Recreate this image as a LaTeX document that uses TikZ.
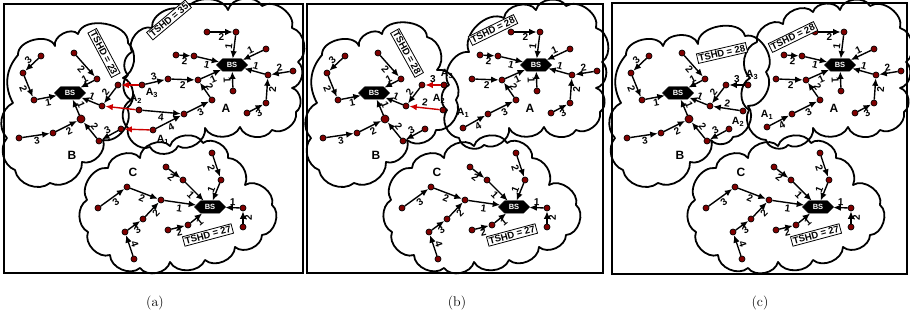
\documentclass[tikz,border=0pt]{standalone}
\usepackage{fontspec}
\setsansfont{Liberation Sans}
\usetikzlibrary{arrows.meta,shapes.symbols}
\definecolor{dotred}{RGB}{128,0,0}
\definecolor{arrred}{RGB}{205,0,0}
\tikzset{
 dot/.style={circle,fill=dotred,draw=black,line width=0.7pt,inner sep=0pt,minimum size=6pt},
 bigdot/.style={dot,minimum size=8pt},
 arr/.style={draw=black,line width=1.4pt,-{Latex[length=7.5pt,width=6.5pt]}},
 redarr/.style={draw=arrred,line width=1.4pt,-{Latex[length=7.5pt,width=6.5pt]}},
 lbl/.style={font=\sffamily\bfseries\fontsize{10}{10}\selectfont,inner sep=1.3pt,sloped},
 bs/.style={signal,signal to=east and west,fill=black,draw=black,text=white,font=\sffamily\bfseries\fontsize{7.5}{8}\selectfont,minimum width=31pt,minimum height=12.5pt,inner sep=0pt},
 tshd/.style={draw,line width=0.8pt,fill=white,font=\sffamily\bfseries\fontsize{9.5}{10}\selectfont,inner sep=1.5pt},
 cl/.style={line width=1.8pt,line join=round,line cap=round},
 frm/.style={line width=1.8pt},
 big/.style={font=\sffamily\bfseries\fontsize{12}{12}\selectfont},
 alab/.style={font=\sffamily\bfseries\fontsize{10.5}{11}\selectfont},
 captxt/.style={font=\fontsize{14}{16}\selectfont},
}
\newcommand{\E}[4]{\draw[arr] (#1) -- node[lbl,#4]{#3} (#2);}
\newcommand{\R}[4]{\draw[redarr] (#1) -- node[lbl,#4]{#3} (#2);}
\newcommand{\clB}{%
\node[bs] (BSb) at (70,93) {BS};
\node[dot] (b1) at (41,56) {};
\node[dot] (b2) at (23,73) {};
\node[dot] (b3) at (34,100) {};
\node[dot] (b4) at (74,53) {};
\node[dot] (b5) at (97,79) {};
\node[dot] (b6) at (102,106) {};
\node[dot] (b7) at (118,85) {};
\node[bigdot] (b8) at (81,119) {};
\node[dot] (b9) at (53,133) {};
\node[dot] (b10) at (19,138) {};
\node[dot] (b11) at (99,141) {};
\node[dot] (b12) at (121,129) {};
\E{b1}{b2}{3}{above}
\E{b2}{b3}{2}{below}
\E{b3}{BSb}{1}{below}
\E{b4}{b5}{2}{below}
\E{b5}{BSb}{1}{above}
\E{b7}{b6}{2}{above}
\E{b6}{BSb}{1}{above}
\E{b8}{BSb}{1}{above}
\E{b9}{b8}{2}{below}
\E{b10}{b9}{3}{below}
\E{b11}{b8}{2}{above}
\E{b12}{b11}{3}{above}
\node[big] (labB) at (72,155) {B};
}
\newcommand{\clA}{%
\node[bs] (BSa) at (232,65) {BS};
\node[dot] (a1) at (207,32) {};
\node[dot] (a2) at (236,32) {};
\node[dot] (a3) at (176,55) {};
\node[dot] (a4) at (194,56) {};
\node[dot] (a5) at (168,79) {};
\node[dot] (a6) at (198,80) {};
\node[dot] (a7) at (212,100) {};
\node[dot] (a8) at (184,114) {};
\node[dot] (a9) at (233,91) {};
\node[dot] (a10) at (266,49) {};
\node[dot] (a11) at (268,75) {};
\node[dot] (a12) at (293,71) {};
\node[dot] (a13) at (266,103) {};
\node[dot] (a14) at (247,113) {};
\E{a1}{a2}{2}{below}
\E{a2}{BSa}{1}{above}
\E{a3}{a4}{2}{below}
\E{a4}{BSa}{1}{below}
\E{a5}{a6}{2}{below}
\E{a6}{BSa}{1}{below}
\E{a7}{a6}{2}{above}
\E{a8}{a7}{3}{below}
\E{a9}{BSa}{1}{below}
\E{a10}{BSa}{1}{above}
\E{a11}{BSa}{1}{above}
\E{a12}{a11}{2}{above}
\E{a13}{a11}{2}{below}
\E{a14}{a13}{3}{below}
\node[big] (labA) at (226,108) {A};
}
\newcommand{\clC}{%
\draw[cl] (87,200) to[bend left=65] (108,168) to[bend left=70] (140,158) to[bend left=70] (170,146) to[bend left=70] (203,143) to[bend left=70] (228,158) to[bend left=55] (245,185) to[bend left=70] (272,205) to[bend left=70] (262,235) to[bend left=65] (235,247) to[bend left=65] (205,260) to[bend left=65] (170,262) to[bend left=65] (140,268) to[bend left=65] (110,255) to[bend left=65] (88,232) to[bend left=60] (87,200);
\node[bs] (BSc) at (210,207) {BS};
\node[dot] (c1) at (166,167) {};
\node[dot] (c2) at (183,180) {};
\node[dot] (c3) at (212,153) {};
\node[dot] (c4) at (221,180) {};
\node[dot] (c5) at (98,208) {};
\node[dot] (c6) at (127,187) {};
\node[dot] (c7) at (161,200) {};
\node[dot] (c8) at (134,259) {};
\node[dot] (c9) at (125,232) {};
\node[dot] (c10) at (143,219) {};
\node[dot] (c11) at (168,230) {};
\node[dot] (c12) at (188,225) {};
\node[dot] (c13) at (243,208) {};
\node[dot] (c14) at (243,227) {};
\E{c1}{c2}{2}{below}
\E{c2}{BSc}{1}{below}
\E{c3}{c4}{2}{below}
\E{c4}{BSc}{1}{above}
\E{c5}{c6}{3}{below}
\E{c6}{c7}{2}{below}
\E{c7}{BSc}{1}{below}
\E{c8}{c9}{4}{above}
\E{c9}{c10}{3}{below}
\E{c10}{c7}{2}{below}
\E{c11}{c12}{2}{below}
\E{c12}{BSc}{1}{below}
\E{c13}{BSc}{1}{above}
\E{c14}{c13}{2}{below}
\node[big] (labC) at (133,172) {C};
\node[tshd,rotate=15] (tc) at (208,235) {TSHD = 27};
}
\begin{document}
\begin{tikzpicture}[x=1pt,y=-1pt]
\useasboundingbox (0,0) rectangle (910,320);
\draw[frm] (4,4) rectangle (303,273);
\draw[frm] (307,4) rectangle (603,273);
\draw[frm] (612,3) rectangle (907,274);
\node[captxt] (capa) at (155,303) {(a)};
\node[captxt] (capb) at (457,303) {(b)};
\node[captxt] (capc) at (760,303) {(c)};
% ---------- panel (a)
\begin{scope}[name prefix=pa-]
\draw[cl] (13,103) to[bend left=35] (18,55) to[bend left=80] (55,46) to[bend left=75] (78,34) to[bend left=85] (128,43) to[bend left=55] (123,78) to[bend left=65] (127,108) to[bend left=65] (103,140) to[bend left=65] (82,162) to[bend left=60] (50,183) to[bend left=60] (15,170) to[bend left=55] (7,138) to[bend left=55] (13,103);
\draw[cl] (132,52) to[bend left=70] (152,28) to[bend left=70] (185,12) to[bend left=70] (228,10) to[bend left=70] (262,6) to[bend left=70] (292,28) to[bend left=65] (298,62) to[bend left=65] (292,88) to[bend left=65] (296,112) to[bend left=65] (272,130) to[bend left=65] (240,127) to[bend left=65] (205,128) to[bend left=65] (178,146) to[bend left=65] (150,147) to[bend left=65] (128,128) to[bend left=55] (131,100) to[bend left=55] (128,75) to[bend left=55] (132,52);
\clC
\clB
\clA
\node[dot] (A3) at (142,85) {};
\node[dot] (A2) at (139,110) {};
\node[dot] (A1) at (153,130) {};
\E{A3}{a5}{3}{above}
\E{A2}{a8}{4}{below}
\E{A1}{a8}{4}{below}
\draw[redarr] (A3) -- (b7);
\draw[redarr] (A2) -- (b6);
\draw[redarr] (A1) -- (b12);
\node[alab] (tA3) at (152,93) {A\textsubscript{3}};
\node[alab] (tA2) at (136,99) {A\textsubscript{2}};
\node[alab] (tA1) at (163,140) {A\textsubscript{1}};
\node[tshd,rotate=-62] (tb) at (104,53) {TSHD = 23};
\node[tshd,rotate=40] (ta) at (169,20) {TSHD = 35};
\end{scope}
% ---------- panel (b)
\begin{scope}[shift={(304,0)},name prefix=pb-]
\draw[cl] (13,103) to[bend left=35] (18,55) to[bend left=80] (55,46) to[bend left=75] (78,34) to[bend left=85] (123,37) to[bend left=60] (133,70) to[bend left=70] (152,100) to[bend left=65] (132,130) to[bend left=60] (103,140) to[bend left=65] (82,162) to[bend left=60] (50,183) to[bend left=60] (15,170) to[bend left=55] (7,138) to[bend left=55] (13,103);
\draw[cl] (145,85) to[bend left=65] (165,52) to[bend left=70] (200,18) to[bend left=70] (232,10) to[bend left=70] (262,6) to[bend left=70] (292,28) to[bend left=65] (298,62) to[bend left=65] (292,88) to[bend left=65] (296,112) to[bend left=65] (272,130) to[bend left=65] (240,127) to[bend left=65] (205,128) to[bend left=65] (180,145) to[bend left=65] (155,138) to[bend left=60] (143,110) to[bend left=60] (145,85);
\clC
\clB
\clA
\node[dot] (A3) at (140,85) {};
\node[dot] (A2) at (139,110) {};
\node[dot] (A1) at (159,128) {};
\E{A1}{a8}{4}{below}
\R{A3}{b7}{3}{above}
\R{A2}{b6}{2}{above}
\node[alab] (tA3) at (143,74) {A\textsubscript{3}};
\node[alab] (tA2) at (135,99) {A\textsubscript{2}};
\node[alab] (tA1) at (159,113) {A\textsubscript{1}};
\node[tshd,rotate=-61] (tb) at (103,53) {TSHD = 28};
\node[tshd,rotate=26] (ta) at (189,30) {TSHD = 28};
\end{scope}
% ---------- panel (c)
\begin{scope}[shift={(608,0)},name prefix=pc-]
\draw[cl] (13,103) to[bend left=35] (18,55) to[bend left=80] (55,46) to[bend left=75] (90,44) to[bend left=85] (137,36) to[bend left=75] (158,72) to[bend left=65] (140,106) to[bend left=65] (125,137) to[bend left=60] (103,140) to[bend left=65] (82,162) to[bend left=60] (50,183) to[bend left=60] (15,170) to[bend left=55] (7,138) to[bend left=55] (13,103);
\draw[cl] (149,42) to[bend left=70] (175,24) to[bend left=70] (205,12) to[bend left=70] (232,10) to[bend left=70] (262,6) to[bend left=70] (292,28) to[bend left=65] (298,62) to[bend left=65] (292,88) to[bend left=65] (296,112) to[bend left=65] (272,130) to[bend left=65] (240,127) to[bend left=65] (205,128) to[bend left=65] (180,145) to[bend left=65] (158,140) to[bend left=60] (141,110) to[bend left=60] (142,78) to[bend left=60] (149,42);
\clC
\clB
\clA
\node[dot] (A3) at (140,85) {};
\node[dot] (A2) at (135,111) {};
\node[dot] (A1) at (159,127) {};
\E{A1}{a8}{4}{below}
\E{A3}{b7}{3}{above}
\E{A2}{b6}{2}{above}
\node[alab] (tA3) at (144,75) {A\textsubscript{3}};
\node[alab] (tA2) at (130,122) {A\textsubscript{2}};
\node[alab] (tA1) at (159,115) {A\textsubscript{1}};
\node[tshd,rotate=13] (tb) at (114,53) {TSHD = 28};
\node[tshd,rotate=26] (ta) at (185,37) {TSHD = 28};
\end{scope}
\end{tikzpicture}
\end{document}
